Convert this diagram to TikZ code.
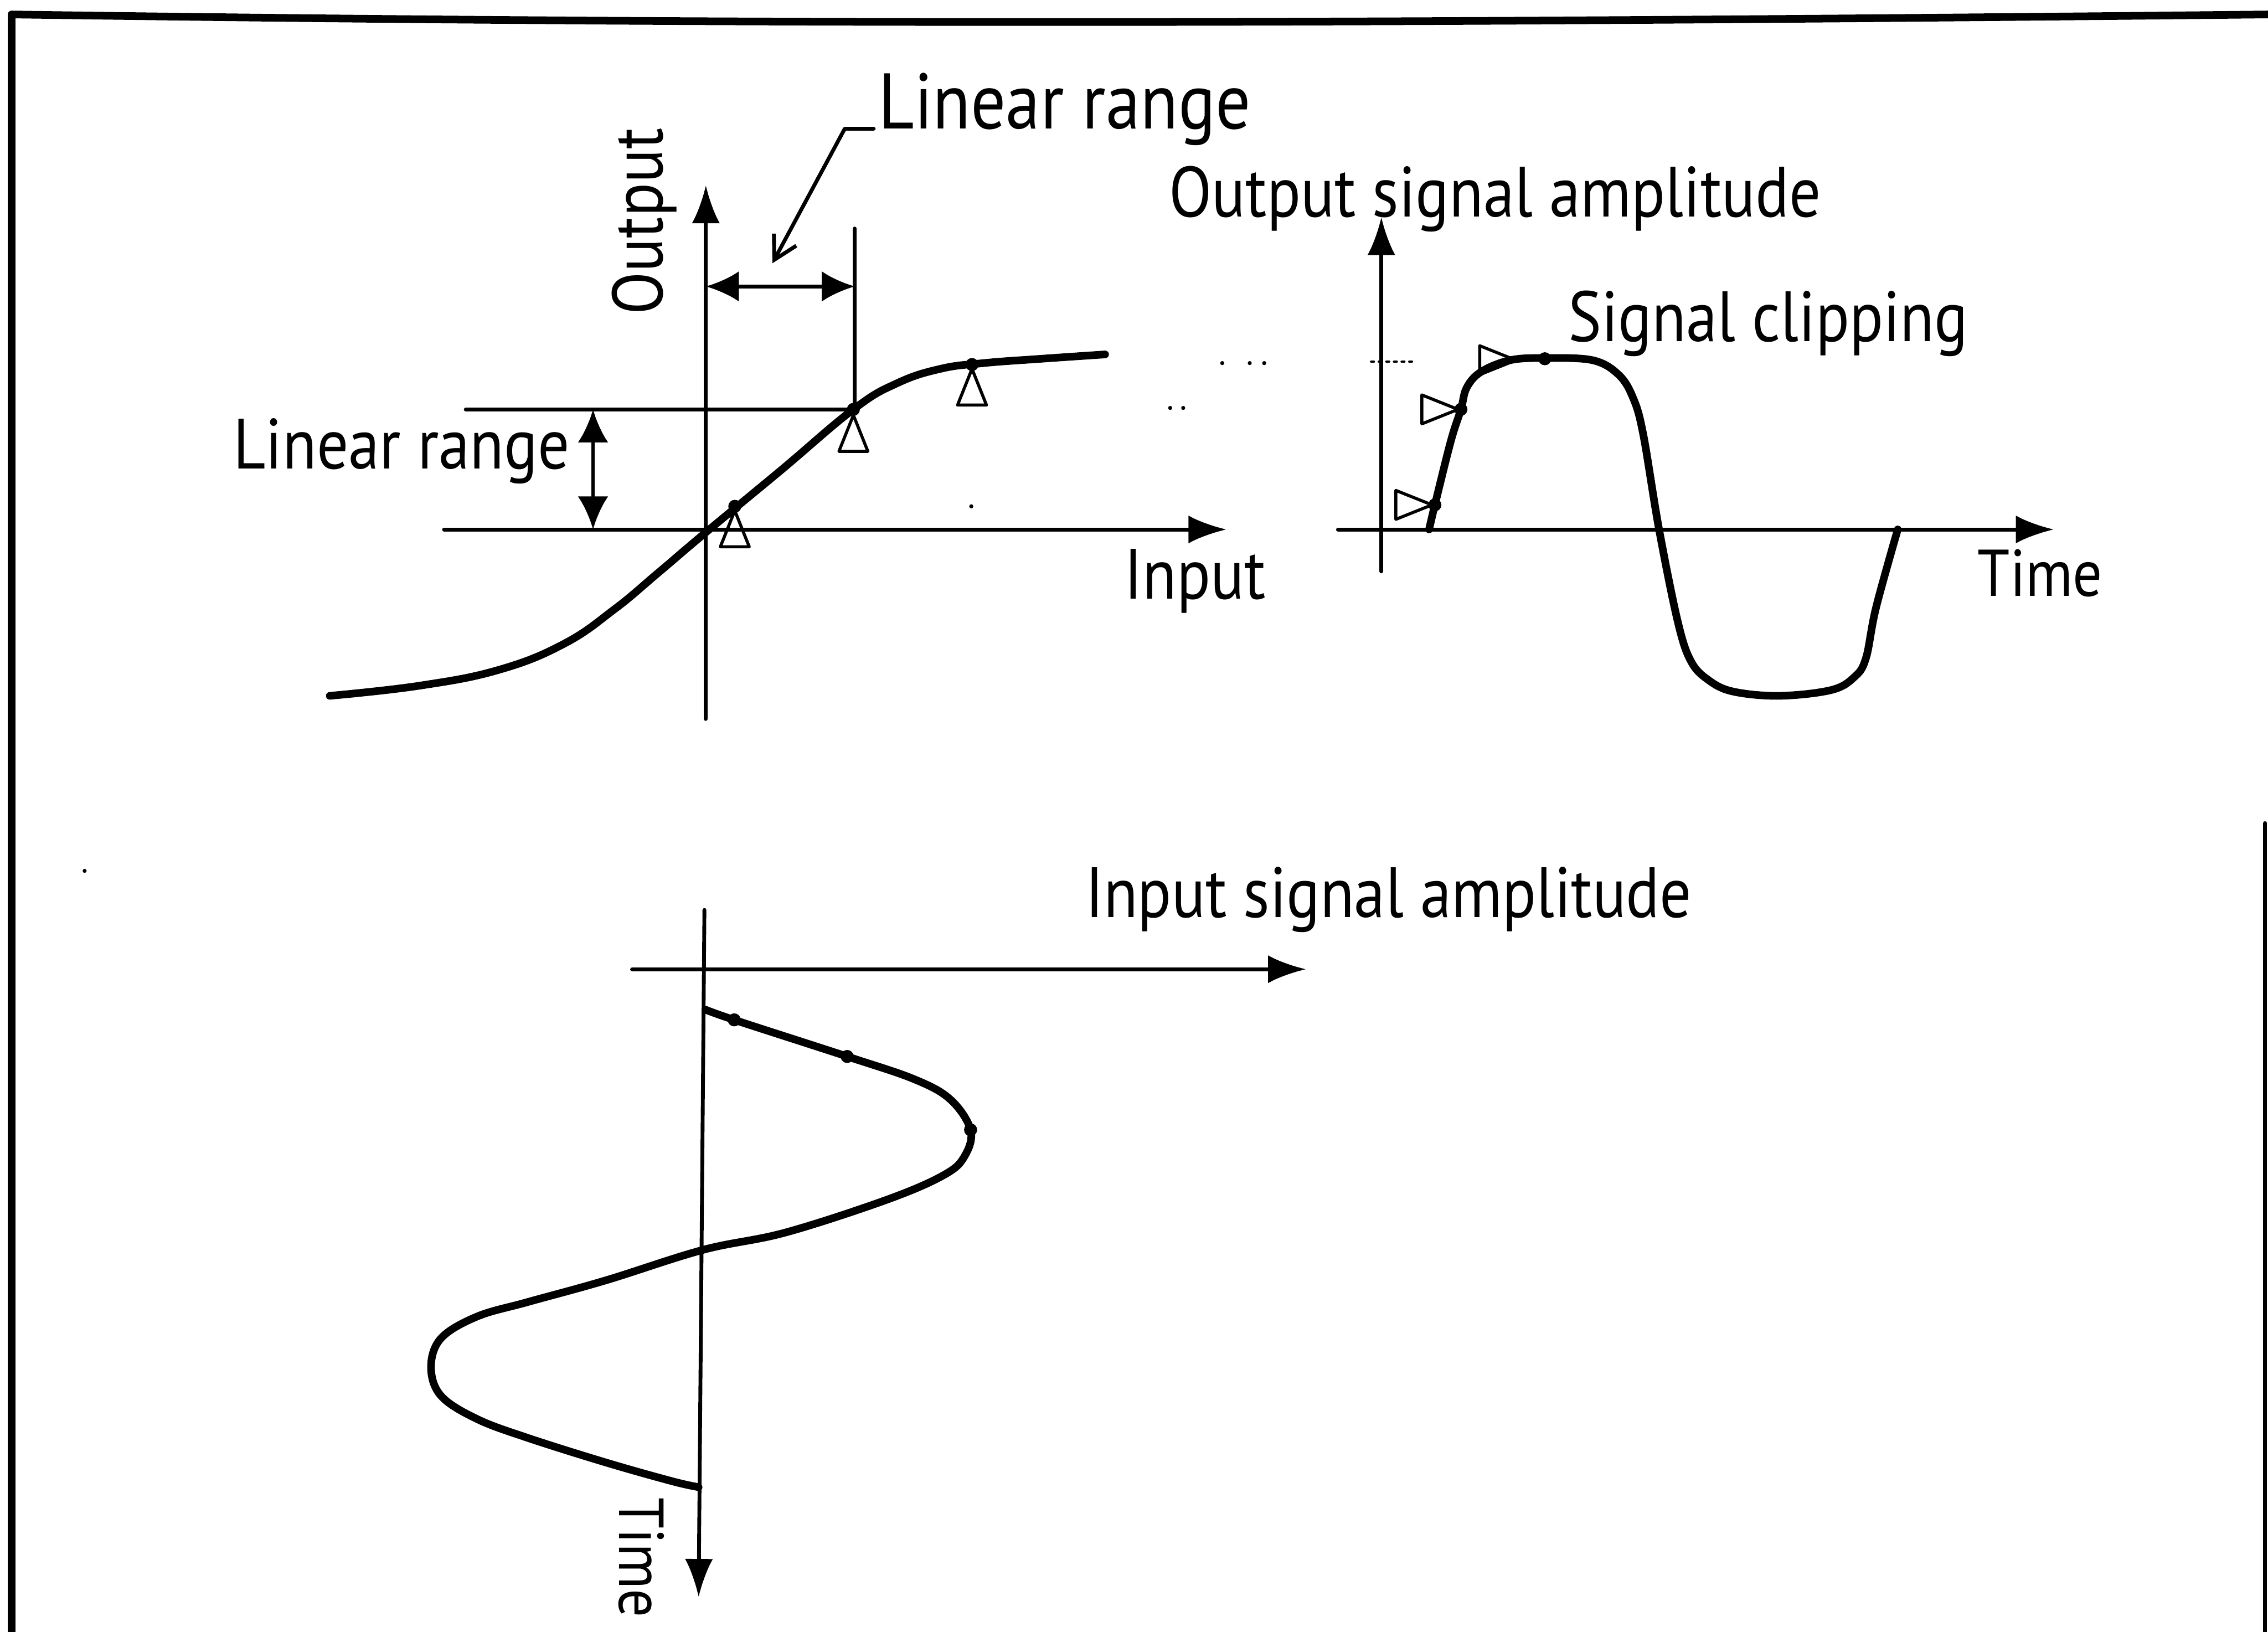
\documentclass[tikz,border=0pt]{standalone}
\usepackage{fontspec}
\setmainfont[FakeStretch=0.88]{PT Sans}
\usetikzlibrary{arrows.meta}
\begin{document}
\begin{tikzpicture}[x=0.02cm,y=-0.02cm,line cap=round,line join=round,font=\fontsize{28}{33}\selectfont,
	axis/.style={line width=1.5pt},
	wave/.style={line width=3pt},
	tip/.style={-{Latex[length=15pt,width=11pt]}},
	tips/.style={{Latex[length=13pt,width=12pt]}-{Latex[length=13pt,width=12pt]}},
	lbl/.style={anchor=base west,inner sep=0pt}]
	\useasboundingbox (0,0) rectangle (1568,1128);
	\tikzset{tri/.pic={\draw[line width=1.2pt] (0,0) -- (-10,25) -- (10,25) -- cycle;}}
	\draw[line width=3pt] (8,1128) -- (8,10) .. controls (500,17) and (900,17) .. (1568,10);
	\draw[line width=1.5pt] (1566,569) -- (1566,1128);
	% transfer curve
	\coordinate (yb1) at (488,497); \coordinate (yt1) at (488,128);
	\coordinate (xl1) at (307,366); \coordinate (xr1) at (848,366);
	\coordinate (hl) at (322,283); \coordinate (hr) at (591,283); \coordinate (vt) at (591,158);
	\coordinate (la) at (488,198); \coordinate (lb) at (591,198);
	\coordinate (ya) at (410,283); \coordinate (yb) at (410,366);
	\coordinate (lrtip) at (534,182);
	\draw[axis,tip] (yb1) -- (yt1);
	\draw[axis,tip] (xl1) -- (xr1);
	\draw[axis] (hl) -- (hr) -- (vt);
	\draw[axis,tips] (la) -- (lb);
	\draw[axis,tips] (ya) -- (yb);
	\node[lbl,rotate=90] (outp) at (458,218) {Output};
	\node[lbl] (inp) at (777,414) {Input};
	\node[lbl] (lrl) at (161,324) {Linear range};
	\node[lbl,font=\fontsize{31}{36}\selectfont] (lrt) at (607,89) {Linear range};
	\draw[axis,-{Straight Barb[length=9pt,width=10pt]}] (lrt.base west) ++(-3,0) -- ++(-20,0) -- (lrtip);
	\foreach \p in {(508,353),(590,287),(672,255)} \pic at \p {tri};
	\draw[wave] plot[smooth,tension=0.7] coordinates {(228,481) (290,474) (345,463) (390,445) (425,421) (455,396) (488,368) (540,325) (590,283) (620,265) (650,255) (680,251) (720,248) (764,245)};
	\foreach \p in {(508,350),(590,283),(672,252)} \fill \p circle (4.5);
	% output signal
	\coordinate (yb2) at (955,395); \coordinate (yt2) at (955,150);
	\coordinate (xl2) at (925,366); \coordinate (xr2) at (1420,366);
	\draw[axis,tip] (yb2) -- (yt2);
	\draw[axis,tip] (xl2) -- (xr2);
	\node[lbl] (osa) at (808,150) {Output signal amplitude};
	\node[lbl] (clip) at (1084,236) {Signal clipping};
	\node[lbl,font=\fontsize{26}{30}\selectfont] (time2) at (1367,412) {Time};
	\foreach \p in {(990,349),(1008,283),(1048,249)} \pic[rotate=-90] at \p {tri};
	\draw[wave] plot[smooth,tension=0.6] coordinates {(988,366) (992,349) (1003,305) (1010,283) (1014,268) (1024,257) (1044,249) (1068,247.5) (1101,249) (1119,259) (1129,275) (1136,300) (1147,366) (1160,430) (1169,457) (1181,470) (1198,478) (1230,481) (1266,477) (1282,468) (1290,455) (1297,420) (1312,366)};
	\foreach \p in {(992,349),(1010,283),(1068,248)} \fill \p circle (4.5);
	\draw[line width=1pt,dotted] (948,250) -- (978,250);
	\foreach \p in {(845,251),(864,251),(874,251),(809,282),(818,282),(671.5,350),(58.5,602)} \fill \p circle (1.4);
	% input signal
	\coordinate (xl3) at (437,670); \coordinate (xr3) at (903,670);
	\coordinate (yt3) at (487,629); \coordinate (yb3) at (483,1104);
	\draw[axis,tip] (xl3) -- (xr3);
	\draw[axis,tip] (yt3) -- (yb3);
	\node[lbl] (isa) at (750,634) {Input signal amplitude};
	\node[lbl,rotate=-90,font=\fontsize{25}{30}\selectfont] (time3) at (428,1035) {Time};
	\draw[wave] plot[smooth,tension=0.6] coordinates {(488,698) (507.6,705) (585.7,730.3) (632,746) (657,760) (671,781) (667,799) (653,812) (614,829) (543,852) (486,864) (419,885) (365,900) (330,910) (305,925) (298,945) (305,965) (330,981) (365,994) (419,1011) (465,1024) (483,1028)};
	\foreach \p in {(507.6,705),(585.7,730.3),(671,781)} \fill \p circle (4.5);
\end{tikzpicture}
\end{document}
